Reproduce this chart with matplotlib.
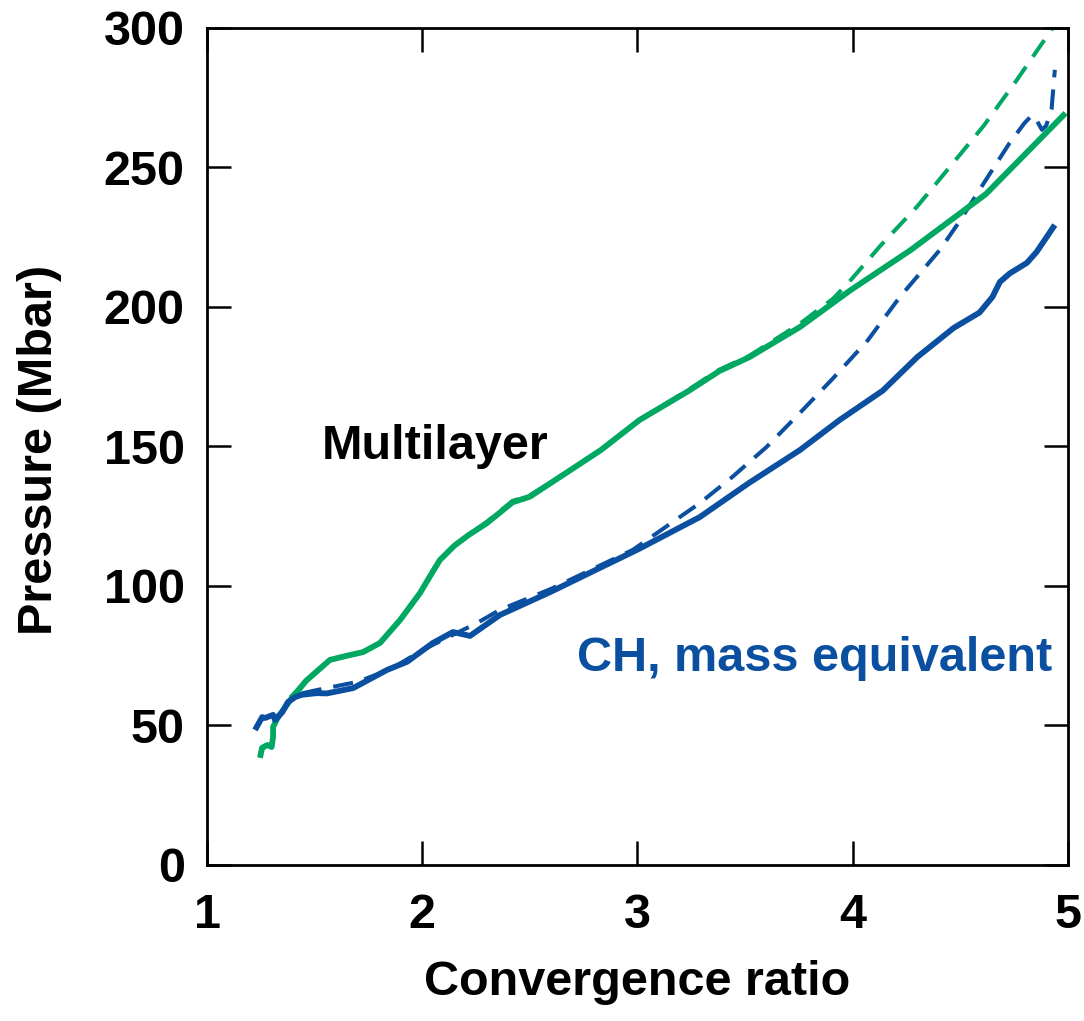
import matplotlib.pyplot as plt

# ---- data ----
ml_x = [1.246, 1.256, 1.28, 1.30, 1.307, 1.307, 1.33, 1.386, 1.46, 1.571, 1.65, 1.725, 1.804,
        1.897, 1.99, 2.04, 2.082, 2.15, 2.22, 2.30, 2.38, 2.42, 2.50, 2.69, 2.83, 3.01, 3.24, 3.38,
        3.52, 3.755, 3.99, 4.27, 4.62, 4.99]
ml_y = [38.4, 42.0, 43.0, 42.3, 45.9, 49.5, 53.0, 59.0, 66.0, 73.5, 75.0, 76.3, 79.6,
        87.8, 97.5, 104.0, 109.3, 114.5, 118.5, 122.5, 127.5, 130.0, 132.0, 141.6, 148.7, 159.5, 170.0, 177.0,
        182.0, 192.8, 206.0, 220.4, 240.5, 269.5]

ml_ideal_x = [1.386, 1.46, 1.571, 1.65, 1.725, 1.804, 1.897, 1.99, 2.04, 2.082, 2.15, 2.22, 2.30,
              2.38, 2.42, 2.50, 2.69, 2.83, 3.01, 3.24, 3.38, 3.52, 3.755, 3.91, 3.99, 4.13, 4.30,
              4.45, 4.61, 4.76, 4.93]
ml_ideal_y = [60.0, 66.0, 73.5, 75.0, 76.3, 79.6, 87.8, 97.5, 104.0, 109.3, 114.5, 118.5, 123.0,
              128.0, 130.5, 132.5, 141.6, 149.0, 159.5, 170.5, 177.5, 182.5, 194.0, 203.0, 209.5, 222.0, 236.0,
              250.0, 265.0, 281.0, 300.0]

ch_x = [1.223, 1.256, 1.27, 1.307, 1.316, 1.35, 1.376, 1.41, 1.44, 1.51, 1.557, 1.679, 1.836,
        1.929, 2.05, 2.143, 2.222, 2.361, 2.60, 2.826, 3.0, 3.29, 3.52, 3.755, 3.94, 4.14,
        4.30, 4.47, 4.59, 4.65, 4.685, 4.73, 4.81, 4.855, 4.94]
ch_y = [48.4, 53.0, 52.7, 53.8, 52.0, 54.8, 58.4, 60.2, 61.0, 61.6, 61.5, 63.4, 69.9,
        72.8, 79.6, 83.5, 82.1, 89.6, 98.0, 106.5, 113.0, 124.7, 137.0, 148.7, 159.5, 170.0,
        182.0, 192.5, 198.0, 203.6, 209.0, 212.0, 215.8, 219.7, 229.4]

ch_ideal_x = [1.44, 1.51, 1.697, 1.85, 2.0, 2.143, 2.254, 2.36, 2.6, 2.98, 3.29, 3.44, 3.60,
              3.755, 3.91, 4.07, 4.22, 4.405, 4.50, 4.61, 4.73, 4.80, 4.835, 4.855, 4.88,
              4.90, 4.925, 4.94]
ch_ideal_y = [61.5, 62.7, 65.6, 70.0, 77.0, 82.5, 86.7, 91.4, 99.0, 113.0, 129.7, 139.0, 149.8,
              162.0, 174.5, 188.0, 203.6, 220.4, 231.0, 244.4, 258.8, 266.0, 268.8, 267.0, 263.5,
              265.0, 271.0, 285.0]

green = '#00A862'
blue = '#0A4FA0'

plt.rcParams['font.family'] = ['Liberation Sans', 'DejaVu Sans']
plt.rcParams['font.weight'] = 'bold'

fig = plt.figure(figsize=(10.84, 10.21), dpi=100)
ax = fig.add_axes([0.191, 0.1528, 0.794, 0.8198])

ax.plot(ml_ideal_x, ml_ideal_y, color=green, lw=2.9, dashes=(5, 3))
ax.plot(ch_ideal_x, ch_ideal_y, color=blue, lw=2.9, dashes=(5, 3))
ax.plot(ml_x, ml_y, color=green, lw=4.2, solid_joinstyle='round', solid_capstyle='butt')
ax.plot(ch_x, ch_y, color=blue, lw=4.2, solid_joinstyle='round', solid_capstyle='butt')

ax.set_xlim(1, 5)
ax.set_ylim(0, 300)
ax.set_xticks([1, 2, 3, 4, 5])
ax.set_yticks([0, 50, 100, 150, 200, 250, 300])
ax.tick_params(direction='in', length=17, width=1.8, top=True, right=True,
               labelsize=35)
ax.tick_params(axis='x', pad=20)
ax.tick_params(axis='y', pad=16)
for lab in ax.get_xticklabels() + ax.get_yticklabels():
    lab.set_fontweight('bold')
for s in ax.spines.values():
    s.set_linewidth(2.0)

ax.set_xlabel('Convergence ratio', fontsize=35, fontweight='bold')
ax.set_ylabel('Pressure (Mbar)', fontsize=35, fontweight='bold')
ax.xaxis.set_label_coords(0.5, -0.113)
ax.yaxis.set_label_coords(-0.168, 0.496)

ax.text(1.535, 150, 'Multilayer', fontsize=35, fontweight='bold', color='black',
        va='center', ha='left')
ax.text(4.93, 74, 'CH, mass equivalent', fontsize=35, fontweight='bold', color=blue,
        va='center', ha='right')

fig.savefig('out.png', dpi=100)
